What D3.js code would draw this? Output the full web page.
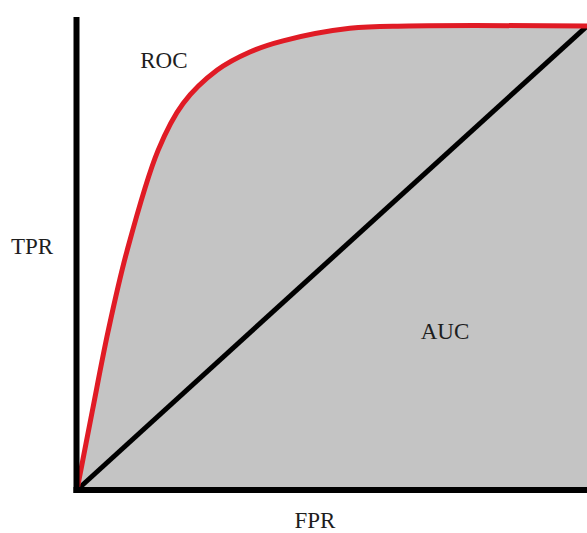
<!DOCTYPE html>
<html>
<head>
<meta charset="utf-8">
<script src="https://cdn.jsdelivr.net/npm/d3@7"></script>
<style>
  html, body { margin: 0; padding: 0; background: #fff; }
  svg { display: block; }
  text { font-family: "Liberation Serif", "DejaVu Serif", serif; font-size: 23px; fill: #1e1e1e; }
</style>
</head>
<body>
<div id="chart"></div>
<script>
// ROC curve
const fpr = [0, 0.03, 0.061, 0.098, 0.159, 0.208, 0.275, 0.339, 0.404, 0.535, 0.65, 1];
const tpr = [0, 0.17, 0.342, 0.515, 0.732, 0.833, 0.905, 0.944, 0.968, 0.995, 1, 1];
// chance line
const diagX = [0, 1];
const diagY = [0, 1];
// labels
const labels = [
  {text: 'ROC', fx: 0.124, ty: 0.91},
  {text: 'AUC', fx: 0.674, ty: 0.326}
];

const width = 587;
const height = 533;

const svg = d3.select('#chart')
    .append('svg')
    .attr('width', width)
    .attr('height', height);

const x = d3.scaleLinear().domain([0, 1]).range([77, 587]);
const y = d3.scaleLinear().domain([0, 1]).range([490, 26]);

const roc = fpr.map((f, i) => ({f: f, t: tpr[i]}));
const smooth = d3.curveCatmullRom.alpha(0.5);

// gray area under the curve
const area = d3.area()
    .x((d) => x(d.f))
    .y0(y(0))
    .y1((d) => y(d.t))
    .curve(smooth);

svg.append('path')
    .datum(roc)
    .attr('d', area)
    .attr('fill', '#c4c4c4');

// diagonal
svg.append('line')
    .attr('x1', x(diagX[0]))
    .attr('y1', y(diagY[0]))
    .attr('x2', x(diagX[1]))
    .attr('y2', y(diagY[1]))
    .attr('stroke', '#000')
    .attr('stroke-width', 5);

// red roc curve
const line = d3.line()
    .x((d) => x(d.f))
    .y((d) => y(d.t))
    .curve(smooth);

svg.append('path')
    .datum(roc)
    .attr('d', line)
    .attr('fill', 'none')
    .attr('stroke', '#e01b25')
    .attr('stroke-width', 5);

// axes (plain thick lines, no ticks)
svg.append('line')
    .attr('x1', 76.5).attr('y1', 17)
    .attr('x2', 76.5).attr('y2', 493)
    .attr('stroke', '#000')
    .attr('stroke-width', 6);

svg.append('line')
    .attr('x1', 73.5).attr('y1', 490)
    .attr('x2', 587).attr('y2', 490)
    .attr('stroke', '#000')
    .attr('stroke-width', 6);

// text
svg.selectAll('.lbl')
    .data(labels)
    .enter()
    .append('text')
    .attr('class', 'lbl')
    .attr('x', (d) => x(d.fx))
    .attr('y', (d) => y(d.ty))
    .text((d) => d.text);

svg.append('text')
    .attr('x', 32)
    .attr('y', 254)
    .attr('text-anchor', 'middle')
    .text('TPR');

svg.append('text')
    .attr('x', 315)
    .attr('y', 528)
    .attr('text-anchor', 'middle')
    .text('FPR');
</script>
</body>
</html>
